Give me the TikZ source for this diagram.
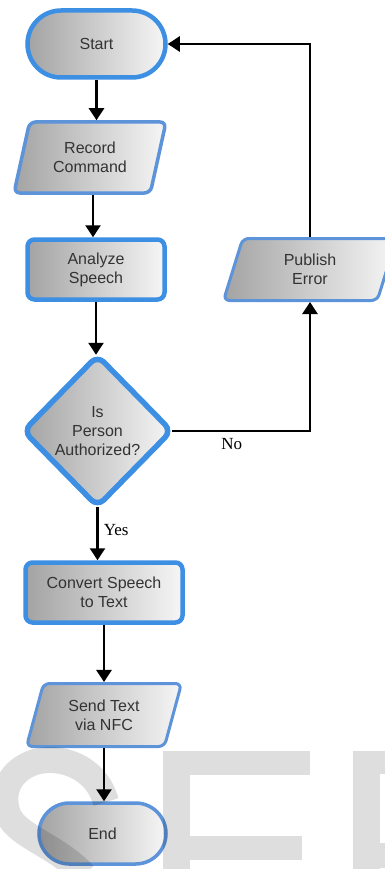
\documentclass[tikz,border=0pt]{standalone}
\usepackage{fontspec}
\setmainfont{Liberation Sans}
\newfontfamily\labserif{Liberation Serif}
\usetikzlibrary{shapes.geometric,shapes.misc,arrows.meta,calc}
\definecolor{bblue}{HTML}{3D8FE3}
\definecolor{sblue}{HTML}{5C93D9}
\definecolor{txtgray}{HTML}{333333}
\definecolor{shdark}{HTML}{A3A3A3}
\definecolor{shlight}{HTML}{F6F6F6}
\begin{document}
\begin{tikzpicture}[x=1pt,y=-1pt,
  base/.style={left color=shdark, right color=shlight, text=txtgray,
    font=\fontsize{16}{19}\selectfont, align=center, inner sep=0pt},
  strong/.style={base, draw=bblue, line width=4.5pt},
  soft/.style={base, draw=sblue, line width=3.5pt},
  term/.style={rounded rectangle},
  procbox/.style={rectangle, rounded corners=7pt},
  iobox/.style={trapezium, trapezium stretches body, rounded corners=6pt},
  decbox/.style={diamond, rounded corners=9pt},
  arr/.style={line width=2.6pt, -{Triangle[width=15pt,length=12pt]}},
  lab/.style={font=\labserif\fontsize{17}{20}\selectfont, text=black},
  wm/.style={fill=black, fill opacity=0.13, draw=none}
]
\useasboundingbox (0,0) rectangle (385,869);

\node[strong, term, minimum width=138pt, minimum height=67pt] (start) at (96.5,44) {Start};
\node[soft, iobox, trapezium left angle=63, trapezium right angle=117,
  minimum width=152pt, minimum height=71pt] (record) at (90,157.5) {Record\\Command};
\node[strong, procbox, minimum width=137pt, minimum height=60pt] (analyze) at (96,269.5) {Analyze\\Speech};
\node[strong, decbox, line width=5.5pt, minimum width=150pt, minimum height=153pt] (decision) at (97.5,431) {Is\\Person\\Authorized?};
\node[soft, iobox, line width=3pt, trapezium left angle=58, trapezium right angle=122,
  minimum width=173pt, minimum height=62pt] (publish) at (310,269.5) {Publish\\Error};
\node[strong, procbox, minimum width=157pt, minimum height=60pt] (convert) at (104,592.5) {Convert Speech\\to Text};
\node[soft, iobox, line width=3pt, trapezium left angle=61, trapezium right angle=119,
  minimum width=155pt, minimum height=63pt] (send) at (104,715) {Send Text\\via NFC};
\node[soft, term, minimum width=127pt, minimum height=61pt] (end) at (102.5,833.5) {End};

\draw[arr] (start.south) -- (start.south |- record.north);
\draw[arr] ($(record.south)+(3,0)$) -- ($(record.south |- analyze.north)+(3,0)$);
\draw[arr, shorten >=-3pt] (analyze.south) -- (analyze.south |- decision.north);
\draw[arr, shorten <=-3pt] (decision.south) -- node[lab, right, pos=0.4, inner sep=5pt] {Yes} (decision.south |- convert.north);
\draw[arr] (convert.south) -- (convert.south |- send.north);
\draw[arr] (send.south) -- (send.south |- end.north);
\draw[arr, shorten <=-3pt] (decision.east) -| node[lab, below, pos=0.21, inner sep=6pt] {No} (publish.south);
\draw[arr] (publish.north) |- (start.east);

% watermark
\draw[draw=black, draw opacity=0.13, line width=26pt]
  (106,802) .. controls (96,766) and (60,755) .. (35,762)
  .. controls (10,770) and (0,792) .. (8,814)
  .. controls (16,836) and (58,846) .. (84,875);
\fill[wm] (163,751) rectangle (190,875);
\fill[wm] (190,751) rectangle (310,775);
\fill[wm] (190,836) rectangle (302,860);
\fill[wm] (353,751) rectangle (380,875);
\fill[wm] (380,751) rectangle (390,774);
\fill[wm] (380,843) rectangle (390,868);
\end{tikzpicture}
\end{document}
